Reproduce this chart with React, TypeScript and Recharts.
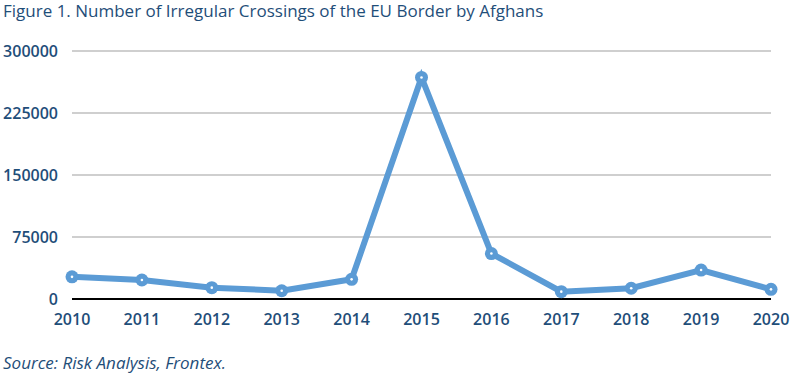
import React from "react";
import { CartesianGrid, Line, LineChart, XAxis, YAxis } from "recharts";

const years = ["2010", "2011", "2012", "2013", "2014", "2015", "2016", "2017", "2018", "2019", "2020"];
const crossings = [26800, 23000, 13700, 10000, 23800, 268000, 55000, 8900, 13000, 35000, 11700];
const yTicks = [0, 75000, 150000, 225000, 300000];

const data = years.map((year, i) => ({ year, crossings: crossings[i] }));

const textColor = "#1F4E79";
const lineColor = "#5B9BD5";
const font = "'Open Sans', sans-serif";

function Dot(props: any) {
  const { cx, cy } = props;
  if (cx == null || cy == null) return null;
  return (
    <g>
      <circle cx={cx} cy={cy} r={6.5} fill={lineColor} />
      <circle cx={cx} cy={cy} r={1.3} fill="#fff" />
    </g>
  );
}

export default function App() {
  return (
    <div style={{ position: "absolute", left: 0, top: 0, width: 803, height: 379, background: "#fff", fontFamily: font }}>
      <div style={{ position: "absolute", left: 3, top: 1, fontSize: 17, lineHeight: "19px", color: textColor, whiteSpace: "nowrap" }}>
        Figure 1. Number of Irregular Crossings of the EU Border by Afghans
      </div>
      <LineChart width={803} height={379} data={data} margin={{ top: 51, right: 32, bottom: 50, left: 12 }}>
        <CartesianGrid vertical={false} stroke="#BFBFBF" strokeWidth={1.5} />
        <XAxis
          dataKey="year"
          height={30}
          padding={{ left: 0, right: 0 }}
          axisLine={{ stroke: "#000", strokeWidth: 2 }}
          tickLine={false}
          tickMargin={9}
          tick={{ fill: textColor, fontSize: 16, fontWeight: 600, fontFamily: font }}
        />
        <YAxis
          width={60}
          domain={[0, 300000]}
          ticks={yTicks}
          axisLine={false}
          tickLine={false}
          tickMargin={8}
          tick={{ fill: textColor, fontSize: 16, fontWeight: 600, fontFamily: font }}
        />
        <Line
          type="linear"
          dataKey="crossings"
          stroke={lineColor}
          strokeWidth={6}
          dot={<Dot />}
          activeDot={false}
          isAnimationActive={false}
        />
      </LineChart>
      <div style={{ position: "absolute", left: 3, top: 352, fontSize: 17, lineHeight: "21px", fontStyle: "italic", color: textColor, whiteSpace: "nowrap" }}>
        Source: Risk Analysis, Frontex.
      </div>
    </div>
  );
}
